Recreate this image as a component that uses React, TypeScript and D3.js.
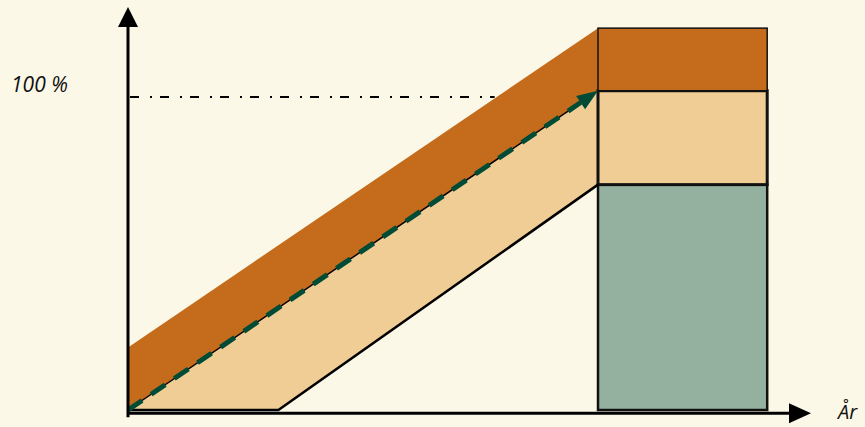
import React from "react";
import { scaleLinear, line } from "d3";

// x: år (0 = start, 100 = full level), y: percent
const bandX = [0, 32, 100];
const upperEdge = [20, 122]; // top of orange band at x 0 and 100
const midEdge = [0, 102]; // dashed arrow line
const lowerEdge = [0, 0, 72]; // lower black line at bandX
const blockX = [100, 136];
const blockLevels = [0, 72, 102, 122];
const blockColors = ["#94B19F", "#EFCD95", "#C46C1C"];
const refLevel = 100;
const refEnd = 78;
const yLabel = "100 %";
const xLabel = "År";

const App = () => {
  const width = 865;
  const height = 427;

  const x = scaleLinear().domain([0, 100]).range([128, 598]);
  const y = scaleLinear().domain([0, 100]).range([410, 97]);
  const path = line<[number, number]>()
    .x((d) => x(d[0]))
    .y((d) => y(d[1]));

  const orangeBand: [number, number][] = [
    [0, upperEdge[0]],
    [100, upperEdge[1]],
    [100, midEdge[1]],
    [0, midEdge[0]],
  ];
  const lightBand: [number, number][] = [
    [0, midEdge[0]],
    [100, midEdge[1]],
    ...bandX
      .map((bx, i) => [bx, lowerEdge[i]] as [number, number])
      .reverse(),
  ];

  // arrowhead at the end of the dashed line
  const x0 = x(0), y0 = y(midEdge[0]);
  const x1 = x(100), y1 = y(midEdge[1]);
  const len = Math.hypot(x1 - x0, y1 - y0);
  const ux = (x1 - x0) / len, uy = (y1 - y0) / len;
  const headL = 21, headW = 8;
  const bx = x1 - ux * headL, by = y1 - uy * headL;
  const head = `${x1},${y1} ${bx - uy * headW},${by + ux * headW} ${bx + uy * headW},${by - ux * headW}`;

  const axisY = y(-1);
  const axisX = x(0);

  return (
    <svg
      width={width}
      height={height}
      style={{ position: "fixed", left: 0, top: 0, background: "#FCF8E7" }}
    >
      <rect width={width} height={height} fill="#FCF8E7" />
      <path d={path(orangeBand) + "Z"} fill="#C46C1C" />
      <path d={path(lightBand) + "Z"} fill="#EFCD95" />

      {blockColors.map((c, i) => (
        <rect
          key={i}
          x={x(blockX[0])}
          y={y(blockLevels[i + 1])}
          width={x(blockX[1]) - x(blockX[0])}
          height={y(blockLevels[i]) - y(blockLevels[i + 1])}
          fill={c}
          stroke="#111"
          strokeWidth={i === 2 ? 1.5 : i === 1 ? 3 : 2.5}
        />
      ))}

      <path
        d={path(bandX.map((bx, i) => [bx, lowerEdge[i]] as [number, number]))!}
        fill="none"
        stroke="#000"
        strokeWidth={2.5}
      />

      <line x1={x0} y1={y0} x2={bx} y2={by} stroke="#000" strokeWidth={1.5} />
      <line
        x1={x0}
        y1={y0}
        x2={bx}
        y2={by}
        stroke="#004B35"
        strokeWidth={5}
        strokeDasharray="17 11"
      />
      <polygon points={head} fill="#004B35" />

      <line
        x1={x(0)}
        y1={y(refLevel)}
        x2={x(refEnd)}
        y2={y(refLevel)}
        stroke="#000"
        strokeWidth={2}
        strokeDasharray="9 11 2 8"
        strokeDashoffset={-2}
      />

      <line x1={axisX} y1={axisY + 4} x2={axisX} y2={26} stroke="#000" strokeWidth={3} />
      <polygon points={`${axisX},7 ${axisX - 10},27 ${axisX + 10},27`} fill="#000" />
      <line x1={axisX - 1} y1={axisY} x2={790} y2={axisY} stroke="#000" strokeWidth={3} />
      <polygon points={`811,${axisY} 789,${axisY - 10} 789,${axisY + 10}`} fill="#000" />

      <text
        x={11}
        y={92}
        fontFamily="'Open Sans', sans-serif"
        fontStyle="italic"
        fontSize={21}
        fill="#111"
      >
        {yLabel}
      </text>
      <text
        x={838}
        y={419}
        fontFamily="'Open Sans', sans-serif"
        fontStyle="italic"
        fontSize={20}
        fill="#111"
      >
        {xLabel}
      </text>
    </svg>
  );
};

export default App;
